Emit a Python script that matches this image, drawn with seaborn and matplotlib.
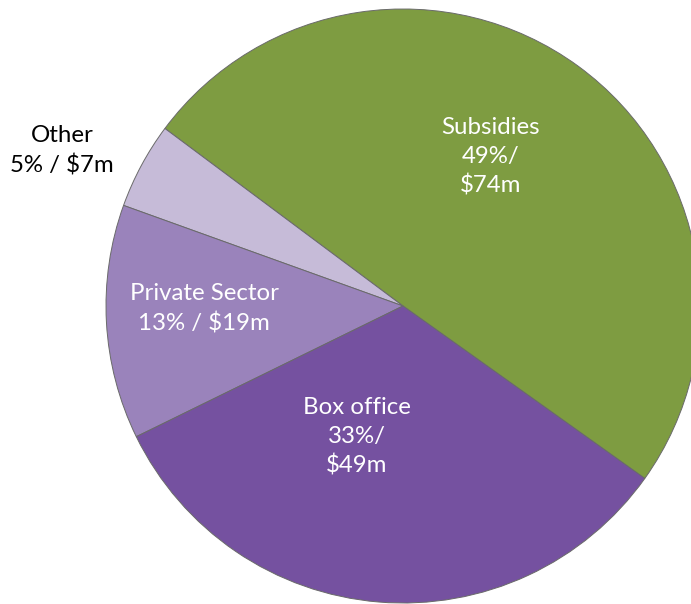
import matplotlib
matplotlib.use("Agg")
import matplotlib.pyplot as plt
import seaborn as sns

sns.set_style("white")
plt.rcParams['font.family'] = ['Lato', 'DejaVu Sans']

sources = ['Subsidies', 'Other', 'Private Sector', 'Box office']
amounts = [74, 7, 19, 49]   # $m
shares = [49, 5, 13, 33]    # % as printed
colours = ['#7E9C41', '#C6BBD8', '#9A83BB', '#7551A0']

labels = ['Subsidies\n49%/\n$74m', 'Other\n5% / $7m',
          'Private Sector\n13% / $19m', 'Box office\n33%/\n$49m']

fig = plt.figure(figsize=(6.91, 6.04), dpi=100)
W, H = 691, 604
cx, cy, r = 403, 306, 297
ax = fig.add_axes([(cx - r) / W, (H - cy - r) / H, 2 * r / W, 2 * r / H])

wedges, _ = ax.pie(amounts, colors=colours, startangle=-35.5, counterclock=True,
                   radius=1, wedgeprops=dict(edgecolor='#6a6a6a', linewidth=0.7))
ax.set_xlim(-1, 1)
ax.set_ylim(-1, 1)
ax.set_aspect('equal')
ax.axis('off')

# label positions (pixels in the reference) -> data coords
pos = [(491, 157), (62, 151), (204, 309), (357, 437)]
txt_col = ['white', 'black', 'white', 'white']
for lab, (px, py), c in zip(labels, pos, txt_col):
    ax.text((px - cx) / r, (cy - py) / r, lab, ha='center', va='center',
            color=c, fontsize=17.3, linespacing=1.45, clip_on=False)

fig.savefig('out.png', dpi=100)
